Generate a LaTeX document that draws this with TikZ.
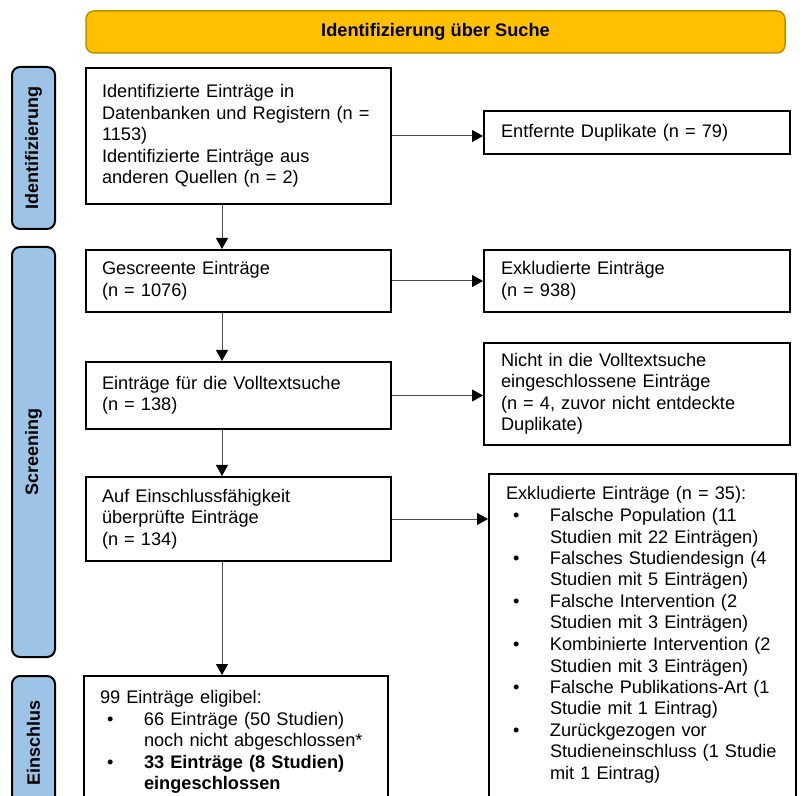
\documentclass[tikz,border=0pt]{standalone}
\usepackage{fontspec}
\setmainfont{Liberation Sans}
\usetikzlibrary{arrows.meta}

\definecolor{suchgelb}{HTML}{FFC000}
\definecolor{suchrand}{HTML}{BF9000}
\definecolor{phasenblau}{HTML}{9DC3E6}

\newcommand{\listdot}{\makebox[22pt][l]{\hspace{3.5pt}\textbullet}}
\newcommand{\listgap}{\makebox[22pt]{}}

\tikzset{
  box/.style = {draw, line width=1pt, anchor=north west, align=left,
                font=\fontsize{9.1}{10.75}\selectfont},
  leftbox/.style = {box, inner xsep=8pt, text width=136.5pt},
  rightbox/.style = {box, inner xsep=8.5pt, text width=136pt},
  phase/.style = {draw, line width=1pt, fill=phasenblau, rounded corners=4pt,
                  rotate=90, minimum height=21.5pt,
                  font=\fontsize{9}{10}\selectfont\bfseries},
  pfeil/.style = {line width=0.5pt, draw=black!70,
                  -{Triangle[length=5.5pt,width=6pt,black]}}
}

\begin{document}
\begin{tikzpicture}[x=0.5pt, y=-0.5pt]

\useasboundingbox (0,0) rectangle (803,796);
\clip (0,0) rectangle (803,796);

\node[draw=suchrand, line width=0.75pt, fill=suchgelb, rounded corners=4pt,
      minimum width=349.5pt, minimum height=21pt,
      font=\fontsize{9.1}{11}\selectfont\bfseries] (suche) at (435.5,32) {Identifizierung über Suche};

\node[phase, minimum width=81pt] (sbident) at (33.5,148) {Identifizierung};
\node[phase, minimum width=205pt] (sbscreen) at (33.5,452) {Screening};
\node[phase, minimum width=67pt] (sbein) at (33.5,743) {Einschlus};

\node[leftbox, minimum height=68pt] (ident) at (85,67)
  {Identifizierte Einträge in\\Datenbanken und Registern (n =\\1153)\\Identifizierte Einträge aus\\anderen Quellen (n = 2)};
\node[rightbox, minimum height=21.5pt] (dupl) at (483,110)
  {Entfernte Duplikate (n = 79)};

\node[leftbox, minimum height=31pt] (gescreent) at (85,249)
  {Gescreente Einträge\\(n = 1076)};
\node[rightbox, minimum height=31pt] (exkl) at (483,249)
  {Exkludierte Einträge\\(n = 938)};

\node[leftbox, minimum height=33.5pt] (volltext) at (85,361)
  {Einträge für die Volltextsuche\\(n = 138)};
\node[rightbox, minimum height=51pt] (nichtvt) at (483,342)
  {Nicht in die Volltextsuche\\eingeschlossene Einträge\\(n = 4, zuvor nicht entdeckte\\Duplikate)};

\node[leftbox, minimum height=42pt] (eignung) at (85,476)
  {Auf Einschlussfähigkeit\\überprüfte Einträge\\(n = 134)};
\node[box, inner xsep=8.5pt, inner ysep=6.3pt, text width=136.5pt,
      text height=6.7pt, text depth=152pt] (exklvt) at (488,473)
  {Exkludierte Einträge (n = 35):\\
   \listdot Falsche Population (11\\
   \listgap Studien mit 22 Einträgen)\\
   \listdot Falsches Studiendesign (4\\
   \listgap Studien mit 5 Einträgen)\\
   \listdot Falsche Intervention (2\\
   \listgap Studien mit 3 Einträgen)\\
   \listdot Kombinierte Intervention (2\\
   \listgap Studien mit 3 Einträgen)\\
   \listdot Falsche Publikations-Art (1\\
   \listgap Studie mit 1 Eintrag)\\
   \listdot Zurückgezogen vor\\
   \listgap\mbox{Studieneinschluss (1 Studie}\\
   \listgap mit 1 Eintrag)};

\node[box, inner xsep=8pt, text width=136pt, minimum height=66pt] (eingeschl) at (83,675)
  {99 Einträge eligibel:\\
   \listdot 66 Einträge (50 Studien)\\
   \listgap noch nicht abgeschlossen*\\
   \listdot \textbf{33 Einträge (8 Studien)}\\
   \listgap \textbf{eingeschlossen}};

\coordinate (spine) at (222,0);

\draw[pfeil] (ident.south -| spine) -- (gescreent.north -| spine);
\draw[pfeil] (gescreent.south -| spine) -- (volltext.north -| spine);
\draw[pfeil] (volltext.south -| spine) -- (eignung.north -| spine);
\draw[pfeil] (eignung.south -| spine) -- (eingeschl.north -| spine);

\draw[pfeil] (ident.east) -- (ident.east -| dupl.west);
\draw[pfeil] (gescreent.east) -- (gescreent.east -| exkl.west);
\draw[pfeil] (volltext.east) -- (volltext.east -| nichtvt.west);
\draw[pfeil] (eignung.east) -- (eignung.east -| exklvt.west);

\end{tikzpicture}
\end{document}
